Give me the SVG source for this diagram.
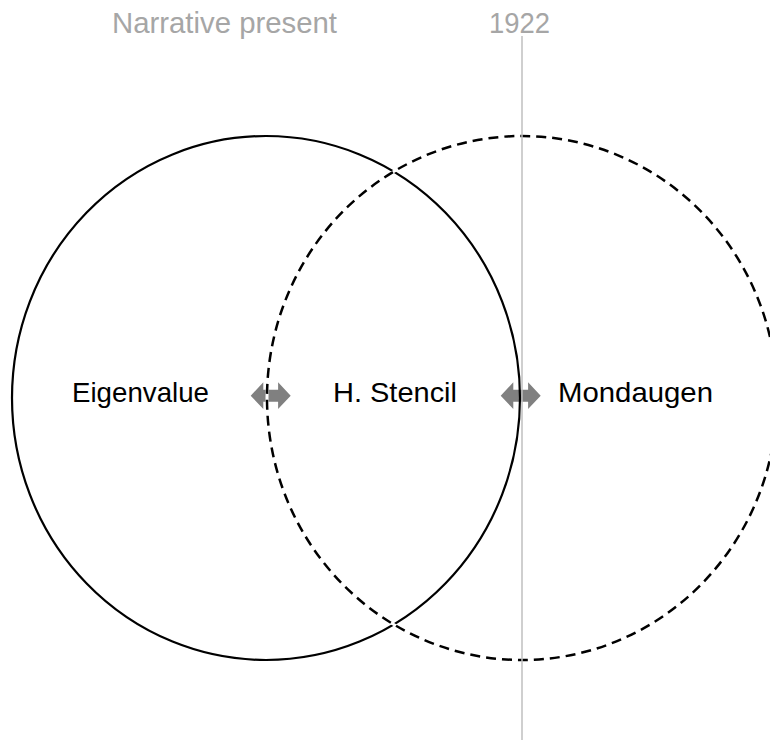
<svg xmlns="http://www.w3.org/2000/svg" width="770" height="740" viewBox="0 0 770 740">
  <style>
    .lbl { font-family: "Liberation Sans", Arial, sans-serif; font-size: 28px; fill: #000000; }
    .hdr { font-family: "Liberation Sans", Arial, sans-serif; font-size: 29px; fill: #a6a6a6; }
    .arrow { fill: #808080; stroke: none; }
  </style>
  <defs>
    <path id="dblArrow" d="M -20 0 L -7.4 -13.4 L -7.4 -6 L 7.4 -6 L 7.4 -13.4 L 20 0 L 7.4 13.4 L 7.4 6 L -7.4 6 L -7.4 13.4 Z"/>
  </defs>
  <rect width="770" height="740" fill="#ffffff"/>

  <g id="connectors">
    <use href="#dblArrow" class="arrow" transform="translate(270.7 395.7)"/>
    <use href="#dblArrow" class="arrow" transform="translate(520.7 395.7)"/>
  </g>

  <g id="eigenvalue">
    <ellipse cx="266" cy="398" rx="254" ry="262" fill="none" stroke="#000000" stroke-width="2.2"/>
    <text class="lbl" x="72" y="402" textLength="137" lengthAdjust="spacingAndGlyphs">Eigenvalue</text>
  </g>

  <g id="mondaugen">
    <ellipse cx="522" cy="398" rx="255" ry="262" fill="none" stroke="#ffffff" stroke-width="3"/>
    <ellipse cx="522" cy="398" rx="255" ry="262" fill="none" stroke="#000000" stroke-width="2.5" stroke-dasharray="10 6"/>
    <text class="lbl" x="558" y="402" textLength="155" lengthAdjust="spacingAndGlyphs">Mondaugen</text>
  </g>

  <g id="stencil">
    <text class="lbl" x="333" y="402" textLength="124" lengthAdjust="spacingAndGlyphs">H. Stencil</text>
  </g>

  <g id="timeline">
    <line x1="522" y1="36" x2="522" y2="740" stroke="#bfbfbf" stroke-width="1.5"/>
    <text class="hdr" x="112" y="33" textLength="225" lengthAdjust="spacingAndGlyphs">Narrative present</text>
    <text class="hdr" x="489" y="33" textLength="61" lengthAdjust="spacingAndGlyphs">1922</text>
  </g>
</svg>
